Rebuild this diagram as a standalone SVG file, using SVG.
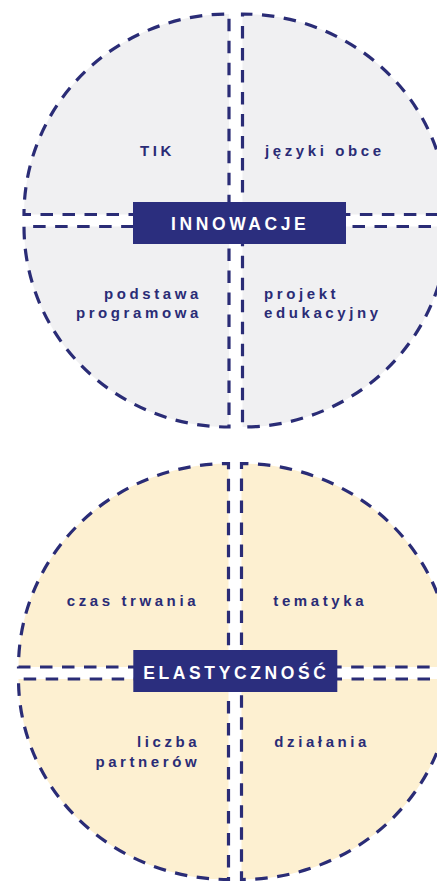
<svg xmlns="http://www.w3.org/2000/svg" width="437" height="883" viewBox="0 0 437 883">
<style>
.q{stroke:#2a2c76;stroke-width:3.2;stroke-dasharray:12.5 9.5;}
.g{fill:#f0f0f2;}
.y{fill:#fdf0d1;}
.lbl{font-family:"Liberation Sans",Arial,sans-serif;font-weight:bold;font-size:15px;letter-spacing:3.6px;fill:#2a2c76;}
.box{fill:#2b2e7e;}
.ttl{font-family:"Liberation Sans",Arial,sans-serif;font-weight:bold;font-size:17.5px;letter-spacing:3.6px;fill:#ffffff;}
</style>
<rect width="437" height="883" fill="#ffffff"/>
<g id="innowacje-circle">
<path class="q g" d="M229,214.5 H24 A205,200.5 0 0 1 229,14 Z"/>
<path class="q g" d="M242.5,214.5 V14 A205,200.5 0 0 1 447.5,214.5 Z"/>
<path class="q g" d="M229,226.5 V427 A205,200.5 0 0 1 24,226.5 Z"/>
<path class="q g" d="M242.5,226.5 H447.5 A205,200.5 0 0 1 242.5,427 Z"/>
</g>
<g id="elastycznosc-circle">
<path class="q y" d="M228.5,667 H18.5 A210,203.5 0 0 1 228.5,463.5 Z"/>
<path class="q y" d="M241.5,667 V463.5 A210,203.5 0 0 1 451.5,667 Z"/>
<path class="q y" d="M228.5,679 V879.5 A210,200.5 0 0 1 18.5,679 Z"/>
<path class="q y" d="M241.5,679 H451.5 A210,200.5 0 0 1 241.5,879.5 Z"/>
</g>
<g id="node-tik"><text class="lbl" x="140" y="156">TIK</text></g>
<g id="node-jezyki"><text class="lbl" x="265" y="156">języki obce</text></g>
<g id="node-podstawa"><text class="lbl" text-anchor="end" x="201.9" y="298.5">podstawa</text><text class="lbl" text-anchor="end" x="201.9" y="318.3">programowa</text></g>
<g id="node-projekt"><text class="lbl" x="264" y="298.5">projekt</text><text class="lbl" x="264" y="318.3">edukacyjny</text></g>
<g id="node-innowacje"><rect class="box" x="133" y="202" width="213" height="42"/><text class="ttl" x="171" y="230">INNOWACJE</text></g>
<g id="node-czas"><text class="lbl" x="66.7" y="606">czas trwania</text></g>
<g id="node-tematyka"><text class="lbl" x="273.3" y="606">tematyka</text></g>
<g id="node-liczba"><text class="lbl" text-anchor="end" x="200.3" y="747">liczba</text><text class="lbl" text-anchor="end" x="200.3" y="766.5">partnerów</text></g>
<g id="node-dzialania"><text class="lbl" x="274.3" y="747">działania</text></g>
<g id="node-elastycznosc"><rect class="box" x="133.3" y="650" width="204" height="42"/><text class="ttl" x="143.3" y="678.5">ELASTYCZNOŚĆ</text></g>
<g id="connectors"></g>
</svg>
